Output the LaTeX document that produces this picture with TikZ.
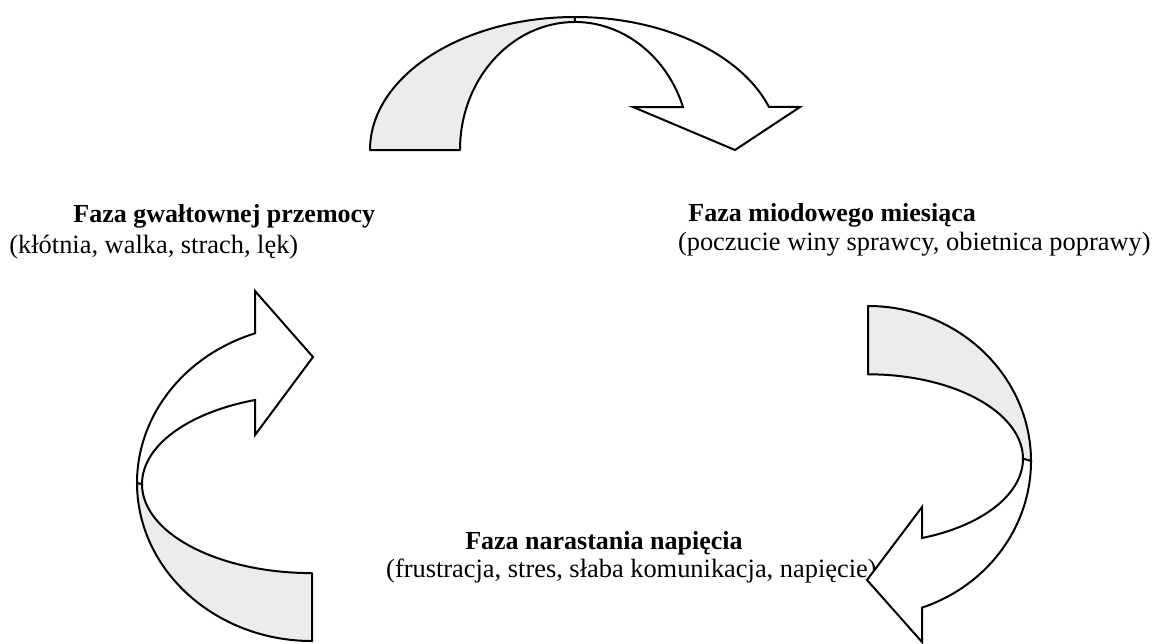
\documentclass[tikz,border=0pt]{standalone}
\usepackage{fontspec}
\setmainfont{Liberation Serif}
\usepackage{tikz}
\usetikzlibrary{shapes,arrows}
\tikzstyle{phase} = [inner sep=0pt, font=\fontsize{13}{15}\selectfont\bfseries]
\tikzstyle{desc} = [inner sep=0pt, font=\fontsize{13.2}{15}\selectfont]
\tikzstyle{backside} = [draw, line width=1pt, fill=gray!15, line join=round]
\tikzstyle{frontside} = [draw, line width=1pt, fill=white, line join=miter]

\begin{document}
\begin{tikzpicture}[x=0.5pt, y=0.5pt]
    \useasboundingbox (0,0) rectangle (1159,-643);
    % Phase labels
    \node [phase, anchor=base west] (violence) at (73,-222) {Faza gwałtownej przemocy};
    \node [desc, anchor=base west] (violencedesc) at (9,-253) {(kłótnia, walka, strach, lęk)};
    \node [phase, anchor=base west] (honeymoon) at (688,-221) {Faza miodowego miesiąca};
    \node [desc, anchor=base east] (honeymoondesc) at (1151,-250) {(poczucie winy sprawcy, obietnica poprawy)};
    \node [phase, anchor=base east] (tension) at (743,-549) {Faza narastania napięcia};
    \node [desc, anchor=base east] (tensiondesc) at (877,-577) {(frustracja, stres, słaba komunikacja, napięcie)};
    % Top arrow: violence -> honeymoon
    \path [backside] (370,-150) arc[start angle=180, end angle=90, x radius=205, y radius=133]
        -- (575,-22) arc[start angle=90, end angle=180, x radius=115, y radius=128] -- cycle;
    \path [frontside] (575,-17) arc[start angle=90, end angle=18.9, x radius=205, y radius=133]
        -- (800,-107) -- (735,-150) -- (633,-107) -- (683,-107)
        arc[start angle=19.6, end angle=90, x radius=115, y radius=128] -- cycle;
    % Right arrow: honeymoon -> tension
    \path [backside] (868,-306) arc[start angle=90, end angle=0, x radius=163, y radius=155.4]
        -- (1023,-459) arc[start angle=0, end angle=90, x radius=155, y radius=84.7] -- cycle;
    \path [frontside] (1031,-461) arc[start angle=0, end angle=-70.6, x radius=163, y radius=155.4]
        -- (922,-642) -- (867,-580) -- (922,-507) -- (922,-538)
        arc[start angle=-69.6, end angle=0, x radius=155, y radius=84.7] -- cycle;
    % Left arrow: tension -> violence
    \path [backside] (312,-641) arc[start angle=270, end angle=180, x radius=175, y radius=158.3]
        -- (142,-484) arc[start angle=180, end angle=270, x radius=170, y radius=89.1] -- cycle;
    \path [frontside] (137,-483) arc[start angle=180, end angle=109, x radius=175, y radius=158.3]
        -- (255,-291) -- (313,-357) -- (255,-435) -- (255,-400)
        arc[start angle=109.6, end angle=180, x radius=170, y radius=89.1] -- cycle;
\end{tikzpicture}
\end{document}
